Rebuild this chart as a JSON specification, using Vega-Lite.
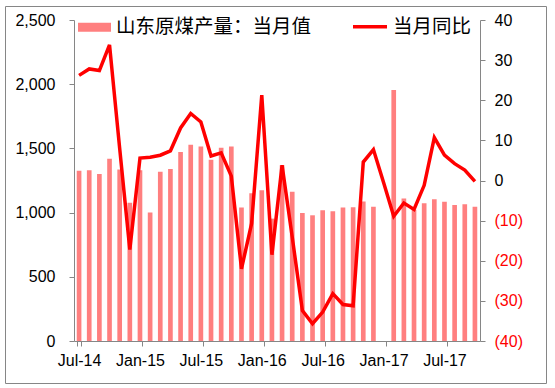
{
  "$schema": "https://vega.github.io/schema/vega-lite/v6.json",
  "width": 541,
  "height": 377,
  "autosize": {"type": "none"},
  "padding": {"left": 5, "top": 6, "right": 9, "bottom": 5},
  "background": "white",
  "config": {
    "view": {"stroke": "#868686", "strokeWidth": 1},
    "font": "Liberation Sans",
    "axis": {"grid": false, "domainColor": "#868686", "tickColor": "#868686", "labelColor": "#000000", "labelFont": "Liberation Sans", "labelFontSize": 16, "tickSize": 5, "title": null}
  },
  "data": {
    "values": [
      {"month": "Jul-14", "output": 1325, "yoy": 26.2},
      {"month": "Aug-14", "output": 1330, "yoy": 27.8},
      {"month": "Sep-14", "output": 1301, "yoy": 27.4},
      {"month": "Oct-14", "output": 1420, "yoy": 33.8},
      {"month": "Nov-14", "output": 1335, "yoy": 8.0},
      {"month": "Dec-14", "output": 1077, "yoy": -17.2},
      {"month": "Jan-15", "output": 1330, "yoy": 5.6},
      {"month": "Feb-15", "output": 1000, "yoy": 5.8},
      {"month": "Mar-15", "output": 1319, "yoy": 6.3},
      {"month": "Apr-15", "output": 1340, "yoy": 7.4},
      {"month": "May-15", "output": 1471, "yoy": 13.1},
      {"month": "Jun-15", "output": 1528, "yoy": 16.7},
      {"month": "Jul-15", "output": 1515, "yoy": 14.6},
      {"month": "Aug-15", "output": 1412, "yoy": 6.1},
      {"month": "Sep-15", "output": 1505, "yoy": 6.9},
      {"month": "Oct-15", "output": 1515, "yoy": 1.1},
      {"month": "Nov-15", "output": 1039, "yoy": -22.0},
      {"month": "Dec-15", "output": 1150, "yoy": -10.7},
      {"month": "Jan-16", "output": 1175, "yoy": 21.3},
      {"month": "Feb-16", "output": 953, "yoy": -18.5},
      {"month": "Mar-16", "output": 1368, "yoy": 3.8},
      {"month": "Apr-16", "output": 1162, "yoy": -14.1},
      {"month": "May-16", "output": 997, "yoy": -32.4},
      {"month": "Jun-16", "output": 979, "yoy": -35.7},
      {"month": "Jul-16", "output": 1018, "yoy": -32.8},
      {"month": "Aug-16", "output": 1010, "yoy": -28.2},
      {"month": "Sep-16", "output": 1039, "yoy": -30.9},
      {"month": "Oct-16", "output": 1041, "yoy": -31.2},
      {"month": "Nov-16", "output": 1087, "yoy": 4.6},
      {"month": "Dec-16", "output": 1046, "yoy": 7.7},
      {"month": "Jan-17", "output": null, "yoy": -0.5},
      {"month": "Feb-17", "output": 1955, "yoy": -8.9},
      {"month": "Mar-17", "output": 1110, "yoy": -5.6},
      {"month": "Apr-17", "output": 1023, "yoy": -7.2},
      {"month": "May-17", "output": 1072, "yoy": -1.2},
      {"month": "Jun-17", "output": 1103, "yoy": 10.7},
      {"month": "Jul-17", "output": 1085, "yoy": 6.3},
      {"month": "Aug-17", "output": 1059, "yoy": 4.2},
      {"month": "Sep-17", "output": 1066, "yoy": 2.6},
      {"month": "Oct-17", "output": 1046, "yoy": -0.2}
    ]
  },
  "layer": [
    {
      "mark": {"type": "bar", "color": "#ff7f7f"},
      "encoding": {
        "x": {
          "field": "month", "type": "ordinal", "sort": null,
          "scale": {
            "type": "band",
            "domain": ["Jul-14","Aug-14","Sep-14","Oct-14","Nov-14","Dec-14","Jan-15","Feb-15","Mar-15","Apr-15","May-15","Jun-15","Jul-15","Aug-15","Sep-15","Oct-15","Nov-15","Dec-15","Jan-16","Feb-16","Mar-16","Apr-16","May-16","Jun-16","Jul-16","Aug-16","Sep-16","Oct-16","Nov-16","Dec-16","Jan-17","Feb-17","Mar-17","Apr-17","May-17","Jun-17","Jul-17","Aug-17","Sep-17","Oct-17"],
            "range": [69, 475],
            "paddingInner": 0.54,
            "paddingOuter": 0.27
          },
          "axis": {
            "orient": "bottom",
            "offset": -42,
            "values": ["Jul-14","Jan-15","Jul-15","Jan-16","Jul-16","Jan-17","Jul-17"],
            "tickBand": "extent",
            "labelAngle": 0,
            "labelPadding": 6
          }
        },
        "y": {
          "field": "output", "type": "quantitative",
          "scale": {"domain": [0, 2500], "range": [335, 14], "nice": false},
          "axis": {"orient": "left", "offset": -69, "values": [0, 500, 1000, 1500, 2000, 2500], "format": ",.0f", "labelPadding": 14}
        },
        "fill": {
          "datum": "山东原煤产量：当月值",
          "scale": {"range": ["#ff7f7f"]},
          "legend": {
            "orient": "none", "legendX": 73, "legendY": 4.7, "title": null, "padding": 0,
            "symbolType": "M-1,-0.273H1V0.273H-1Z", "symbolSize": 1089, "symbolStrokeWidth": 0,
            "labelFont": "Noto Sans CJK SC", "labelFontSize": 19.5, "labelColor": "#000000", "labelOffset": 5, "labelLimit": 400
          }
        }
      }
    },
    {
      "mark": {"type": "line", "color": "#ff0000", "strokeWidth": 3.5},
      "encoding": {
        "x": {"field": "month", "type": "ordinal", "sort": null},
        "y": {
          "field": "yoy", "type": "quantitative",
          "scale": {"domain": [-40, 40], "range": [335, 14], "nice": false, "zero": false},
          "axis": {
            "orient": "right", "offset": -66,
            "values": [-40, -30, -20, -10, 0, 10, 20, 30, 40],
            "labelExpr": "datum.value < 0 ? '(' + abs(datum.value) + ')' : datum.label",
            "labelColor": {"condition": {"test": "datum.value < 0", "value": "#ff0000"}, "value": "#000000"},
            "labelPadding": 9
          }
        },
        "stroke": {
          "datum": "当月同比",
          "scale": {"range": ["#ff0000"]},
          "legend": {
            "orient": "none", "legendX": 346, "legendY": 1.7, "title": null, "padding": 0,
            "symbolType": "stroke", "symbolSize": 1156, "symbolStrokeWidth": 3.5,
            "labelFont": "Noto Sans CJK SC", "labelFontSize": 19.5, "labelColor": "#000000", "labelOffset": 4, "labelLimit": 400
          }
        }
      }
    }
  ],
  "resolve": {"scale": {"y": "independent", "fill": "independent", "stroke": "independent"}}
}
